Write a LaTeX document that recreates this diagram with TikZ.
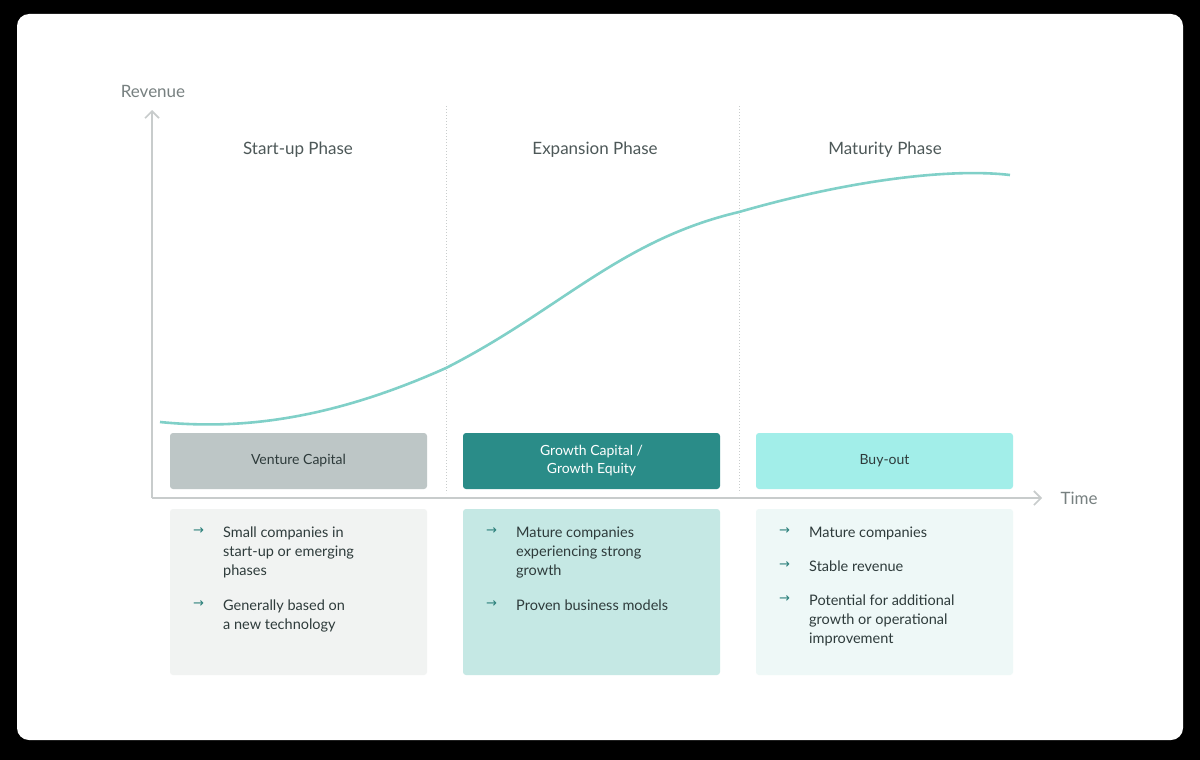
\documentclass[tikz,border=0pt]{standalone}
\usepackage{fontspec}
\setmainfont{Lato}
\newfontfamily\dv{DejaVu Sans}
\usetikzlibrary{arrows.meta}
\definecolor{txt}{HTML}{2E3B3B}
\definecolor{axis}{HTML}{C8CCCC}
\definecolor{curve}{HTML}{80D0C8}
\definecolor{vcA}{HTML}{BDC6C6}
\definecolor{vcB}{HTML}{2A8C88}
\definecolor{vcC}{HTML}{A2EEE9}
\definecolor{bgA}{HTML}{F1F3F2}
\definecolor{bgB}{HTML}{C5E8E4}
\definecolor{bgC}{HTML}{EEF8F7}
\definecolor{arr}{HTML}{2A7F7A}
\begin{document}
\begin{tikzpicture}[x=1pt,y=-1pt,
  head/.style={rounded corners=3pt,minimum width=257pt,minimum height=56pt,inner sep=0pt,font=\fontsize{14}{18}\selectfont,align=center},
  card/.style={rounded corners=3pt,minimum width=257pt,minimum height=166pt,inner sep=0pt},
  phase/.style={font=\fontsize{17}{20}\selectfont,text=txt!85},
  bul/.style={anchor=north west,font=\fontsize{14.5}{19}\selectfont,text=txt,align=left,inner sep=0pt},
  ar/.style={anchor=north west,font=\dv\fontsize{13}{19}\selectfont,text=arr,inner sep=0pt}]
\fill[black] (0,0) rectangle (1200,760);
\fill[white,rounded corners=12pt] (17,14) rectangle (1183,740);
% dashed dividers
\coordinate (d1t) at (446,106); \coordinate (d1b) at (446,493);
\coordinate (d2t) at (739,106); \coordinate (d2b) at (739,493);
\draw[axis,dotted,line width=1pt] (d1t) -- (d1b);
\draw[axis,dotted,line width=1pt] (d2t) -- (d2b);
% axes
\coordinate (o) at (152,498); \coordinate (ytop) at (152,110); \coordinate (xend) at (1042,498);
\draw[axis,line width=1.6pt,-{Straight Barb[length=7pt,width=14pt]}] (o) -- (ytop);
\draw[axis,line width=1.6pt,-{Straight Barb[length=7pt,width=14pt]}] (o) -- (xend);
\node[font=\fontsize{17}{20}\selectfont,text=txt!65] (rev) at (153,91) {Revenue};
\node[font=\fontsize{17}{20}\selectfont,text=txt!65,anchor=west] (time) at (1057,498) {Time};
% curve
\draw[curve,line width=2.6pt] (160,422) .. controls (240,430) and (330,420) .. (446,368)
  .. controls (560,310) and (620,240) .. (739,212)
  .. controls (850,180) and (950,168) .. (1010,175);
% phases
\node[phase] (p1) at (298,150) {Start-up Phase};
\node[phase] (p2) at (595,150) {Expansion Phase};
\node[phase] (p3) at (885,150) {Maturity Phase};
% heads
\node[head,fill=vcA,text=txt] (h1) at (298.5,461) {Venture Capital};
\node[head,fill=vcB,text=white] (h2) at (591.5,461) {Growth Capital /\\Growth Equity};
\node[head,fill=vcC,text=txt] (h3) at (884.5,461) {Buy-out};
% cards
\node[card,fill=bgA] (c1) at (298.5,592) {};
\node[card,fill=bgB] (c2) at (591.5,592) {};
\node[card,fill=bgC] (c3) at (884.5,592) {};
% bullets
\node[ar] at (193,527) {→}; \node[bul] at (223,527) {Small companies in\\start-up or emerging\\phases};
\node[ar] at (193,600) {→}; \node[bul] at (223,600) {Generally based on\\a new technology};
\node[ar] at (486,527) {→}; \node[bul] at (516,527) {Mature companies\\experiencing strong\\growth};
\node[ar] at (486,600) {→}; \node[bul] at (516,600) {Proven business models};
\node[ar] at (779,527) {→}; \node[bul] at (809,527) {Mature companies};
\node[ar] at (779,561) {→}; \node[bul] at (809,561) {Stable revenue};
\node[ar] at (779,595) {→}; \node[bul] at (809,595) {Potential for additional\\growth or operational\\improvement};
\end{tikzpicture}
\end{document}
